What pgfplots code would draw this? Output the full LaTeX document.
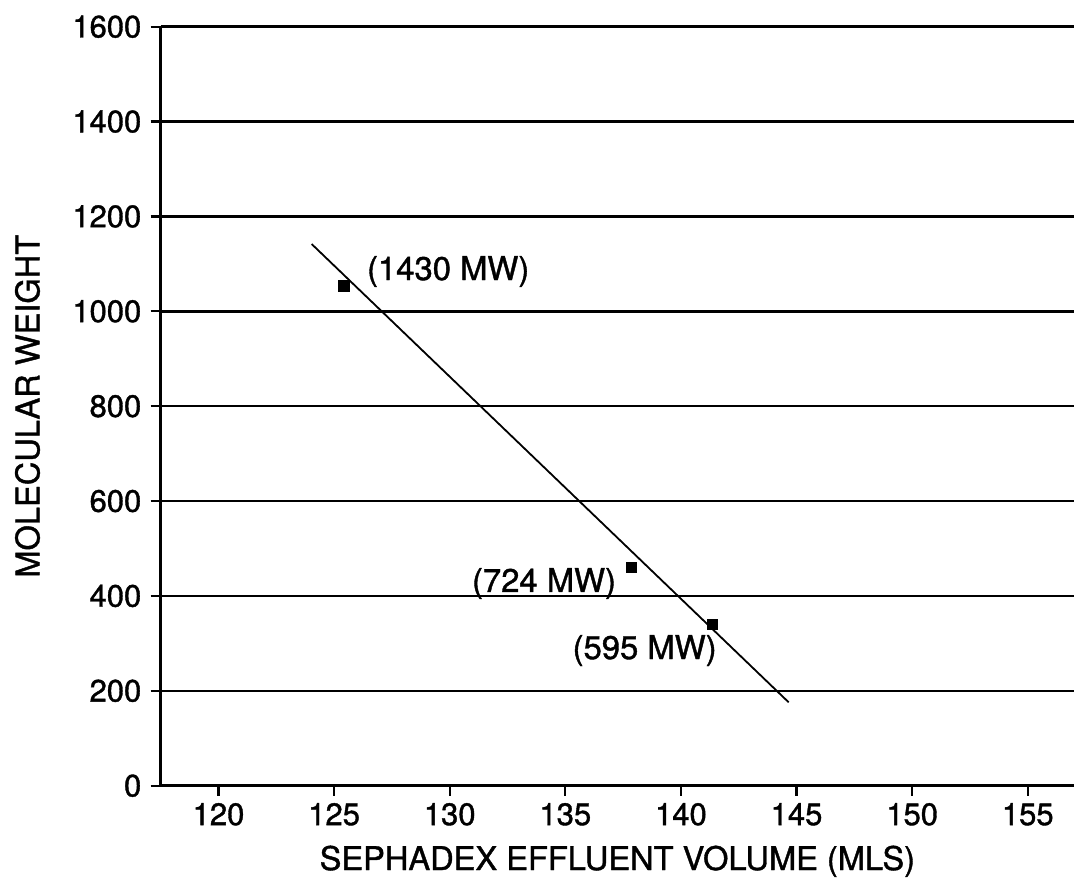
\documentclass[border=0pt]{standalone}
\usepackage{fontspec}
\setmainfont{TeX Gyre Heros}[FakeBold=1.2]
\usepackage{pgfplots}
\pgfplotsset{compat=1.18}

% standard points
\pgfplotstableread{
vol   mw
125.43 1054
137.86 460
141.35 340
}\standards

\begin{document}
\begin{tikzpicture}
\begin{axis}[
    scale only axis,
    width=456.65pt, height=379.5pt,
    xmin=117.5, xmax=157,
    ymin=0, ymax=1600,
    xtick={120,125,...,155},
    ytick={0,200,...,1600},
    axis x line*=bottom,
    axis y line*=left,
    axis line style={-, line width=1.3pt, black},
    tick align=outside,
    major tick length=5pt,
    tick style={line width=1.1pt, black},
    ymajorgrids,
    grid style={line width=1.2pt, black},
    /pgf/number format/assume math mode=true,
    /pgf/number format/1000 sep={},
    ticklabel style={font=\fontsize{15.5}{18}\selectfont},
    xticklabel style={inner sep=3.5pt},
    yticklabel style={inner sep=4.5pt},
    xlabel={SEPHADEX EFFLUENT VOLUME (MLS)},
    ylabel={MOLECULAR WEIGHT},
    label style={font=\fontsize{16.3}{19}\selectfont},
    xlabel style={at={(axis description cs:0.5,0)}, anchor=base, yshift=-42.15pt},
    ylabel style={at={(axis description cs:0,0.5)}, anchor=center, yshift=66.6pt},
]
\addplot[only marks, mark=square*, mark size=2.6pt, black] table[x=vol, y=mw] {\standards};
\addplot[black, line width=0.9pt] coordinates {(124.03,1141.8) (144.66,175.8)};
\node[anchor=base west, inner sep=0pt, font=\fontsize{16.4}{19}\selectfont] at (axis cs:126.41,1066) {(1430 MW)};
\node[anchor=base east, inner sep=0pt, font=\fontsize{16.4}{19}\selectfont] at (axis cs:137.21,408.4) {(724 MW)};
\node[anchor=base west, inner sep=0pt, font=\fontsize{16.4}{19}\selectfont] at (axis cs:135.30,267) {(595 MW)};
\coordinate (ll) at (rel axis cs:0,0);
\coordinate (ur) at (rel axis cs:1,1);
\end{axis}
\pgfresetboundingbox
\path ([shift={(-80.35pt,-46.15pt)}]ll) rectangle ([shift={(0pt,13.35pt)}]ur);
\end{tikzpicture}
\end{document}
